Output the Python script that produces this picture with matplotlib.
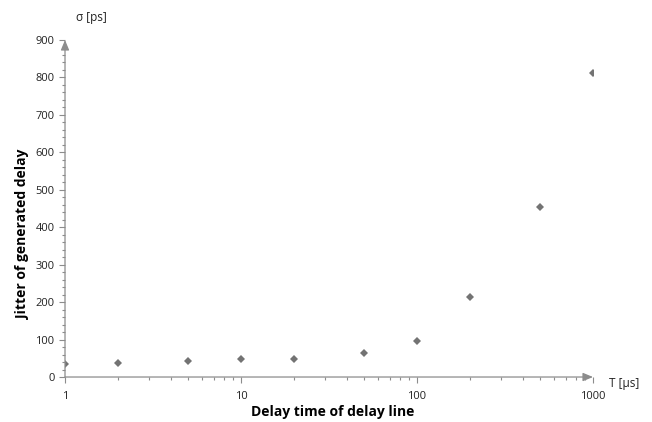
import matplotlib.pyplot as plt
from matplotlib.ticker import FixedLocator, MultipleLocator, NullFormatter

delay_us = [1, 2, 5, 10, 20, 50, 100, 200, 500, 1000]
jitter_ps = [35, 37, 42, 47, 49, 65, 96, 213, 453, 812]

plt.rcParams['font.family'] = ['Open Sans', 'DejaVu Sans']

fig = plt.figure(figsize=(6.52, 4.22), dpi=100)
ax = fig.add_axes([0.0997, 0.1066, 0.8098, 0.7986])

ax.plot(delay_us, jitter_ps, linestyle='none', marker='D', markersize=4.0,
        color='#737373', markeredgewidth=0)

ax.set_xscale('log')
ax.set_xlim(1, 1000)
ax.set_ylim(0, 900)
ax.yaxis.set_major_locator(MultipleLocator(100))
ax.yaxis.set_minor_locator(MultipleLocator(20))
ax.xaxis.set_major_locator(FixedLocator([1, 10, 100, 1000]))
ax.xaxis.set_major_formatter(plt.FuncFormatter(lambda v, p: f"{int(v)}"))
ax.xaxis.set_minor_formatter(NullFormatter())

for s in ax.spines.values():
    s.set_visible(False)

# axes drawn as arrows
grey = '#8c8c8c'
arrow = dict(arrowstyle='-|>,head_length=0.6,head_width=0.25',
             color=grey, lw=0.9, shrinkA=0, shrinkB=0)
ax.annotate('', xy=(1.0, 0), xytext=(0, 0), xycoords='axes fraction', arrowprops=arrow)
ax.annotate('', xy=(0, 1.0), xytext=(0, 0), xycoords='axes fraction', arrowprops=arrow)

ax.tick_params(which='both', direction='out', color=grey, width=0.8)
ax.tick_params(which='major', length=4, labelsize=8, labelcolor='#222222')
ax.tick_params(which='minor', length=2.5)
ax.tick_params(axis='x', pad=6)

fig.text(333 / 652, 1 - 412 / 422, 'Delay time of delay line', fontsize=10,
         fontweight='bold', ha='center', va='center')
fig.text(23 / 652, 1 - 234 / 422, 'Jitter of generated delay', fontsize=10,
         fontweight='bold', ha='center', va='center', rotation=90)

fig.text(76 / 652, 1 - 17 / 422, 'σ [ps]', fontsize=8.5, ha='left', va='center',
         color='#222222')
fig.text(609 / 652, 1 - 384 / 422, 'T [μs]', fontsize=8.5, ha='left', va='center',
         color='#222222')

fig.savefig('out.png', dpi=100)
